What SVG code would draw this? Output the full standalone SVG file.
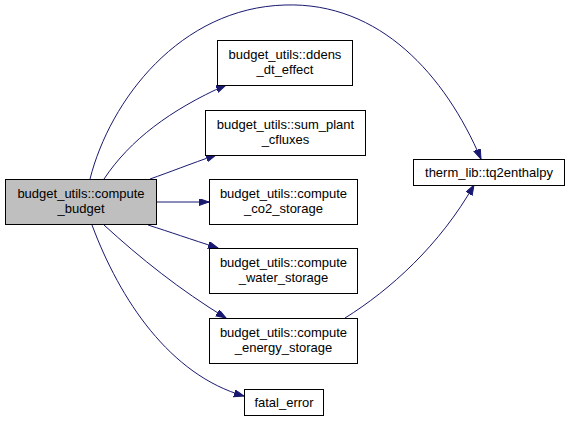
<svg xmlns="http://www.w3.org/2000/svg" width="571" height="422" viewBox="0 0 571 422">
<style>
.node rect{fill:#ffffff;stroke:#000000;stroke-width:1}
.node.main rect{fill:#bfbfbf}
.node text{font-family:"Liberation Sans",Arial,Helvetica,sans-serif;font-size:13px;fill:#000000;text-anchor:middle}
.edges path{fill:none;stroke:#191970;stroke-width:1}
</style>
<defs>
<marker id="arr" markerUnits="userSpaceOnUse" markerWidth="12" markerHeight="10" refX="10" refY="3.5" orient="auto">
<path d="M0,0 L10,3.5 L0,7 Z" fill="#191970" stroke="#191970" stroke-width="1"/>
</marker>
</defs>
<rect width="571" height="422" fill="#ffffff"/>
<g class="edges" id="edges">
<path d="M90,179 C110,100 180,8 285,5 C380,2 445,75 481,159" marker-end="url(#arr)"/>
<path d="M104,179 C130,140 170,110 226,85" marker-end="url(#arr)"/>
<path d="M150,179 C170,172 190,164 216,155" marker-end="url(#arr)"/>
<path d="M157,202 L209,202" marker-end="url(#arr)"/>
<path d="M148,225 C170,232 190,239 218,248" marker-end="url(#arr)"/>
<path d="M104,225 C140,258 180,290 226,318" marker-end="url(#arr)"/>
<path d="M92,225 C120,300 170,375 244,396" marker-end="url(#arr)"/>
<path d="M345,318 C390,290 440,245 474,185" marker-end="url(#arr)"/>
</g>
<g class="node main" id="node-compute-budget">
<rect x="5.5" y="179.5" width="151" height="45"/>
<text x="81" y="198">budget_utils::compute</text>
<text x="81" y="213">_budget</text>
</g>
<g class="node" id="node-ddens">
<rect x="217.5" y="40.5" width="135" height="45"/>
<text x="285" y="59">budget_utils::ddens</text>
<text x="285" y="74">_dt_effect</text>
</g>
<g class="node" id="node-sum-plant">
<rect x="205.5" y="110.5" width="160" height="45"/>
<text x="285.5" y="129">budget_utils::sum_plant</text>
<text x="285.5" y="144">_cfluxes</text>
</g>
<g class="node" id="node-co2">
<rect x="209.5" y="179.5" width="148" height="45"/>
<text x="283.5" y="198">budget_utils::compute</text>
<text x="283.5" y="213">_co2_storage</text>
</g>
<g class="node" id="node-water">
<rect x="209.5" y="248.5" width="148" height="45"/>
<text x="283.5" y="267">budget_utils::compute</text>
<text x="283.5" y="282">_water_storage</text>
</g>
<g class="node" id="node-energy">
<rect x="209.5" y="318.5" width="148" height="45"/>
<text x="283.5" y="337">budget_utils::compute</text>
<text x="283.5" y="352">_energy_storage</text>
</g>
<g class="node" id="node-fatal">
<rect x="244.5" y="389.5" width="79" height="26"/>
<text x="284" y="407">fatal_error</text>
</g>
<g class="node" id="node-tq2">
<rect x="413.5" y="159.5" width="151" height="26"/>
<text x="489" y="177">therm_lib::tq2enthalpy</text>
</g>
</svg>
